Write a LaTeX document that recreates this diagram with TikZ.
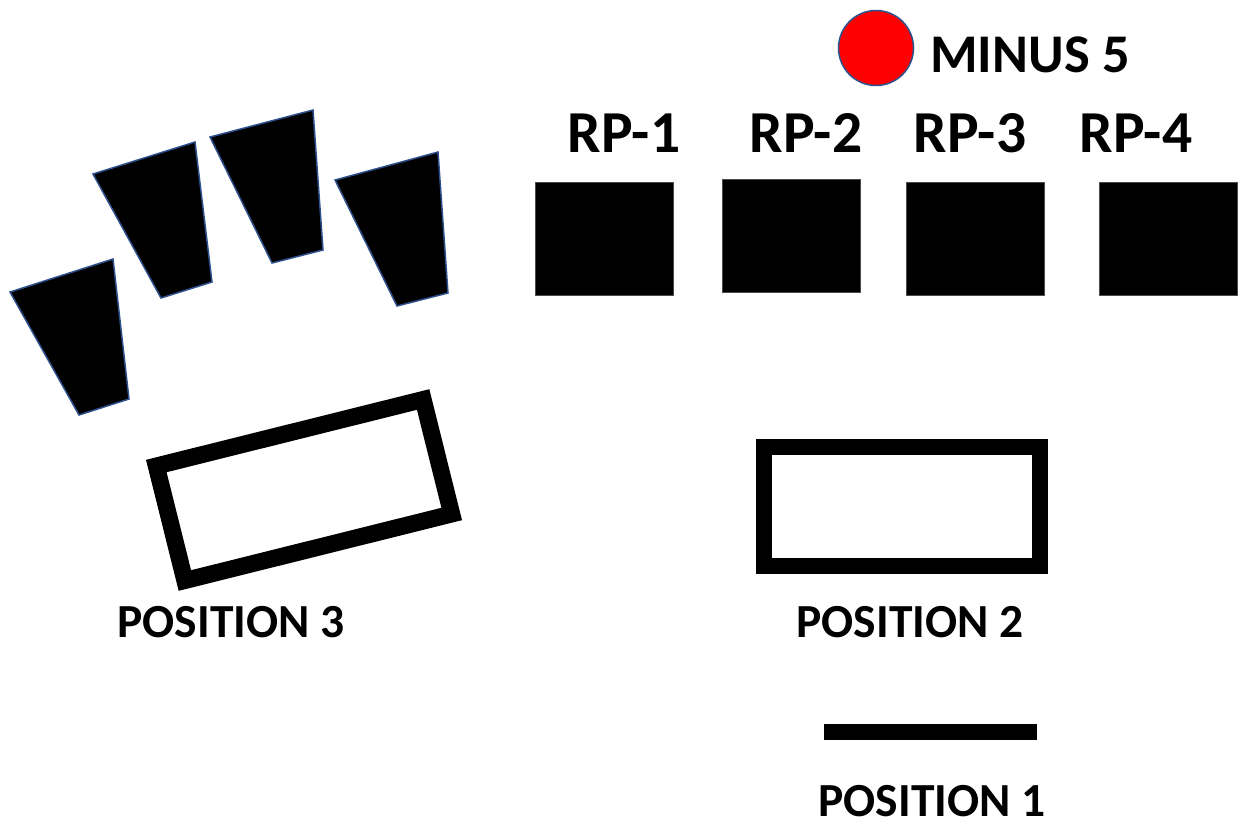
\documentclass[tikz,border=0pt]{standalone}
\usepackage{fontspec}
\setmainfont{Carlito}
\definecolor{edgeblue}{HTML}{2F528F}
\begin{document}
\begin{tikzpicture}[x=1pt,y=-1pt,
  lbl/.style={inner sep=0pt,font=\bfseries\fontsize{#1}{#1}\selectfont},
  rpbox/.style={fill=black,draw=black!70,line width=0.8pt,inner sep=0pt,minimum width=138pt,minimum height=113pt},
  trap/.style={fill=black,draw=edgeblue,line width=1.5pt,line join=miter},
  posframe/.style={draw=black,fill=white,inner sep=0pt,line join=miter}]
\useasboundingbox[fill=white] (0,0) rectangle (1239,823);
% hand-like trapezoids
\draw[trap] (10,292) -- (113,259) -- (129,399) -- (79,415) -- cycle;
\draw[trap] (93,174) -- (195,142) -- (212,282) -- (161,298) -- cycle;
\draw[trap] (210,137) -- (313,110) -- (323,250) -- (272,263) -- cycle;
\draw[trap] (335,180) -- (438,152) -- (448,293) -- (397,306) -- cycle;
% minus 5 marker
\node[circle,fill=red,draw=edgeblue,line width=1.5pt,minimum size=75pt,inner sep=0pt] (dot) at (876,48) {};
\node[lbl=54.5] (minus) at (1030,55) {MINUS 5};
% RP labels and boxes
\node[lbl=59.5] (rp1l) at (624,133) {RP-1};
\node[lbl=59.5] (rp2l) at (806,133) {RP-2};
\node[lbl=59.5] (rp3l) at (970,133) {RP-3};
\node[lbl=59.5] (rp4l) at (1136,133) {RP-4};
\node[rpbox] (rp1) at (604.5,238.6) {};
\node[rpbox] (rp2) at (791.3,236) {};
\node[rpbox] (rp3) at (975.2,238.6) {};
\node[rpbox] (rp4) at (1168.8,238.6) {};
% positions
\node[posframe,line width=17pt,minimum width=275pt,minimum height=118pt,rotate=14] (pos3) at (304,490) {};
\node[lbl=47.5] (pos3l) at (231,622) {POSITION 3};
\node[posframe,line width=16pt,minimum width=276pt,minimum height=119pt] (pos2) at (902.4,506.5) {};
\node[lbl=47.5] (pos2l) at (910,622) {POSITION 2};
\node[fill=black,inner sep=0pt,minimum width=213pt,minimum height=16pt] (pos1) at (930.3,732) {};
\node[lbl=47.5] (pos1l) at (932,801) {POSITION 1};
\end{tikzpicture}
\end{document}
